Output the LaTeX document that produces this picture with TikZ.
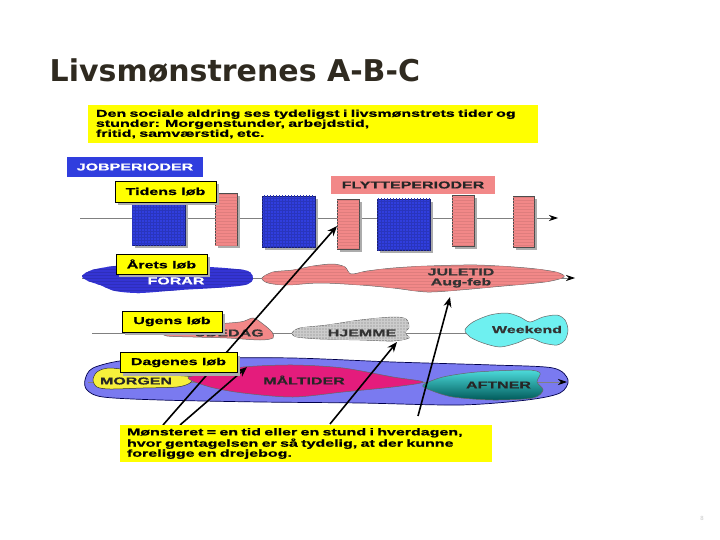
\documentclass[tikz,border=0pt]{standalone}
\usepackage{fontspec}
\setmainfont{Liberation Sans}
\newfontfamily\wide[FakeStretch=1.6, FakeBold=0.8]{Liberation Sans}
\newfontfamily\titlefont{DejaVu Sans}
\usetikzlibrary{arrows.meta,shadows,patterns}
\definecolor{gul}{RGB}{255,255,0}
\definecolor{jobblau}{RGB}{48,62,222}
\definecolor{flytrosa}{RGB}{242,136,136}
\definecolor{forarblau}{RGB}{52,52,212}
\definecolor{dagblau}{RGB}{122,122,240}
\definecolor{morgengul}{RGB}{246,240,60}
\definecolor{maltid}{RGB}{228,28,124}
\definecolor{weekend}{RGB}{110,240,240}
\definecolor{titelfarve}{RGB}{47,42,32}
\begin{document}
\begin{tikzpicture}[x=1pt, y=-1pt,
    every node/.style={font=\wide\bfseries\fontsize{10}{10}\selectfont, inner sep=0pt},
    skygge/.style={drop shadow={opacity=1, shadow xshift=3pt, shadow yshift=-3pt, fill=gray!65}},
    labelbox/.style={draw=black, fill=gul, line width=0.6pt, skygge},
    jobblok/.style={fill=jobblau, draw=jobblau!50!black, line width=0.8pt, skygge, postaction={pattern=grid, pattern color=jobblau!85!black}},
    flytblok/.style={fill=flytrosa, draw=black!70, skygge, minimum width=22, minimum height=51, postaction={pattern=horizontal lines, pattern color=flytrosa!92!black}},
    tidslinje/.style={draw=gray, line width=0.8pt, -{Stealth[black, length=9pt, width=6pt]}},
    pil/.style={line width=1.6pt, -{Stealth[length=10pt, width=8pt]}},
    klat/.style={draw=black!60, line width=0.5pt}]
  \useasboundingbox (0,0) rectangle (720,540);

  \node (titel) at (49.5,82) [anchor=base west, text=titelfarve, font=\titlefont\bfseries\fontsize{30}{30}\selectfont] {Livsmønstrenes A-B-C};
  \node (intro) at (313,124) [fill=gul, minimum height=38, text width=434, inner xsep=8, align=left] {Den sociale aldring ses tydeligst i livsmønstrets tider og\\stunder: Morgenstunder, arbejdstid,\\fritid, samværstid,  etc.};

  \coordinate (l1a) at (80,218);   \coordinate (l1b) at (558,218);
  \coordinate (l2a) at (82,278);   \coordinate (l2b) at (575,278);
  \coordinate (l3a) at (92,333);   \coordinate (l3b) at (470,333);
  \coordinate (l4a) at (88,382);   \coordinate (l4b) at (567,382);
  \draw[tidslinje] (l1a) -- (l1b);

  \node (job1) at (158.5,220.5) [jobblok, minimum width=53, minimum height=49] {};
  \node (job2) at (288.5,221.5) [jobblok, minimum width=53, minimum height=51] {};
  \node (job3) at (403.5,224.5) [jobblok, minimum width=53, minimum height=51] {};
  \node (flyt1) at (226,219) [flytblok, minimum height=52] {};
  \node (flyt2) at (348,224) [flytblok, minimum height=50] {};
  \node (flyt3) at (463,220.5) [flytblok] {};
  \node (flyt4) at (523.5,221.5) [flytblok, minimum width=21] {};

  \draw[tidslinje] (l2a) -- (l2b);
  \fill[forarblau, postaction={pattern=horizontal lines, pattern color=forarblau!88!black}] plot[smooth cycle] coordinates {(82,276) (92,270) (115,266) (150,264) (190,266) (225,268) (248,271) (253,279) (245,285) (215,288) (180,290) (140,293) (115,291) (100,285) (88,281)};
  \draw[klat, fill=flytrosa, postaction={pattern=horizontal lines, pattern color=flytrosa!92!black}] plot[smooth cycle] coordinates {(262,278) (273,272) (293,270) (313,266) (333,264) (345,267) (351,274) (367,271) (393,268) (427,266) (477,265) (527,268) (556,272) (564,277) (545,282) (493,287) (460,290) (427,292) (393,288) (360,285) (320,283) (287,285) (268,283)};

  \draw[gray, line width=0.8pt] (l3a) -- (l3b);
  \draw[klat, fill=flytrosa] plot[smooth cycle] coordinates {(162,332) (170,327) (200,325) (240,322) (253,318) (263,324) (272,332) (273,338) (260,340) (227,338) (193,337) (167,336)};
  \draw[klat, fill=gray!55, postaction={pattern=grid, pattern color=white!60!gray}] plot[smooth cycle] coordinates {(292,333) (300,328) (327,325) (360,320) (393,317) (406,319) (409,327) (405,333) (409,338) (393,341) (360,340) (320,339) (297,337)};
  \draw[klat, fill=weekend] plot[smooth cycle] coordinates {(465,330) (473,322) (490,315) (507,313) (520,317) (530,322) (543,317) (557,315) (565,320) (568,330) (565,340) (557,345) (543,343) (530,338) (517,343) (500,347) (483,343) (470,337)};

  \draw[draw=blue!30!black, line width=0.7pt, fill=dagblau] plot[smooth cycle] coordinates {(85,380) (93,368) (127,360) (193,358) (293,358) (393,362) (493,365) (553,368) (568,380) (560,393) (527,400) (460,405) (360,403) (260,402) (160,400) (103,397) (87,390)};
  \draw[tidslinje] (l4a) -- (l4b);
  \draw[klat, draw=black!80, fill=morgengul] plot[smooth cycle] coordinates {(93,380) (97,372) (110,368) (143,372) (170,375) (192,377) (190,383) (177,387) (143,388) (110,389) (97,387)};
  \draw[klat, fill=maltid] plot[smooth cycle] coordinates {(188,378) (210,373) (243,367) (293,365) (343,368) (393,377) (423,382) (393,387) (343,392) (293,397) (243,393) (210,387)};
  \draw[klat, top color=cyan!60!teal!70, bottom color=teal!70!black] plot[smooth cycle] coordinates {(423,385) (443,377) (477,372) (527,370) (540,373) (537,382) (543,390) (533,398) (493,400) (453,397) (430,390)};

  \node (forar) at (176,280) [text=white] {FORÅR};
  \node (juletid) at (461,278) [text=black!80, align=center] {JULETID\\Aug-feb};
  \node (udedag) at (229,333) [text=black!80] {UDEDAG};
  \node (hjemme) at (362,333) [text=black!80] {HJEMME};
  \node (weekendtxt) at (527,329.5) [text=black!80] {Weekend};
  \node (morgen) at (136,381) [text=black!85] {MORGEN};
  \node (maltider) at (304,380) [text=black!85] {MÅLTIDER};
  \node (aftner) at (498.5,385) [text=black!85] {AFTNER};

  \coordinate (h1) at (337,226);  \coordinate (t1) at (163,425);
  \coordinate (h2) at (247,367);  \coordinate (t2) at (180,425);
  \coordinate (h3) at (397,342);  \coordinate (t3) at (330,424);
  \coordinate (h4) at (450,297);  \coordinate (t4) at (418,416);
  \foreach \source/\dest in {t1/h1, t2/h2, t3/h3, t4/h4}
    \draw[pil] (\source) -- (\dest);

  \node (jobperioder) at (135,167) [fill=jobblau, text=white, minimum width=136, minimum height=20] {JOBPERIODER};
  \node (flytteperioder) at (413,185) [fill=flytrosa, text=black!85, minimum width=164, minimum height=18] {FLYTTEPERIODER};
  \node (tidens) at (165.5,191.5) [labelbox, minimum width=101, minimum height=21] {Tidens løb};
  \node (arets) at (161.5,264) [labelbox, minimum width=91, minimum height=20] {Årets løb};
  \node (ugens) at (172,321.5) [labelbox, minimum width=100, minimum height=21] {Ugens løb};
  \node (dagenes) at (178.5,362.5) [labelbox, minimum width=117, minimum height=20] {Dagenes løb};
  \node (monster) at (306,443.5) [fill=gul, minimum height=37, text width=358, inner xsep=7, align=left] {Mønsteret = en tid eller en stund i hverdagen,\\hvor gentagelsen er så tydelig, at der kunne\\foreligge en drejebog.};

  \node (side) at (702,518) [text=gray!45, font=\fontsize{6}{6}\selectfont] {8};
\end{tikzpicture}
\end{document}
